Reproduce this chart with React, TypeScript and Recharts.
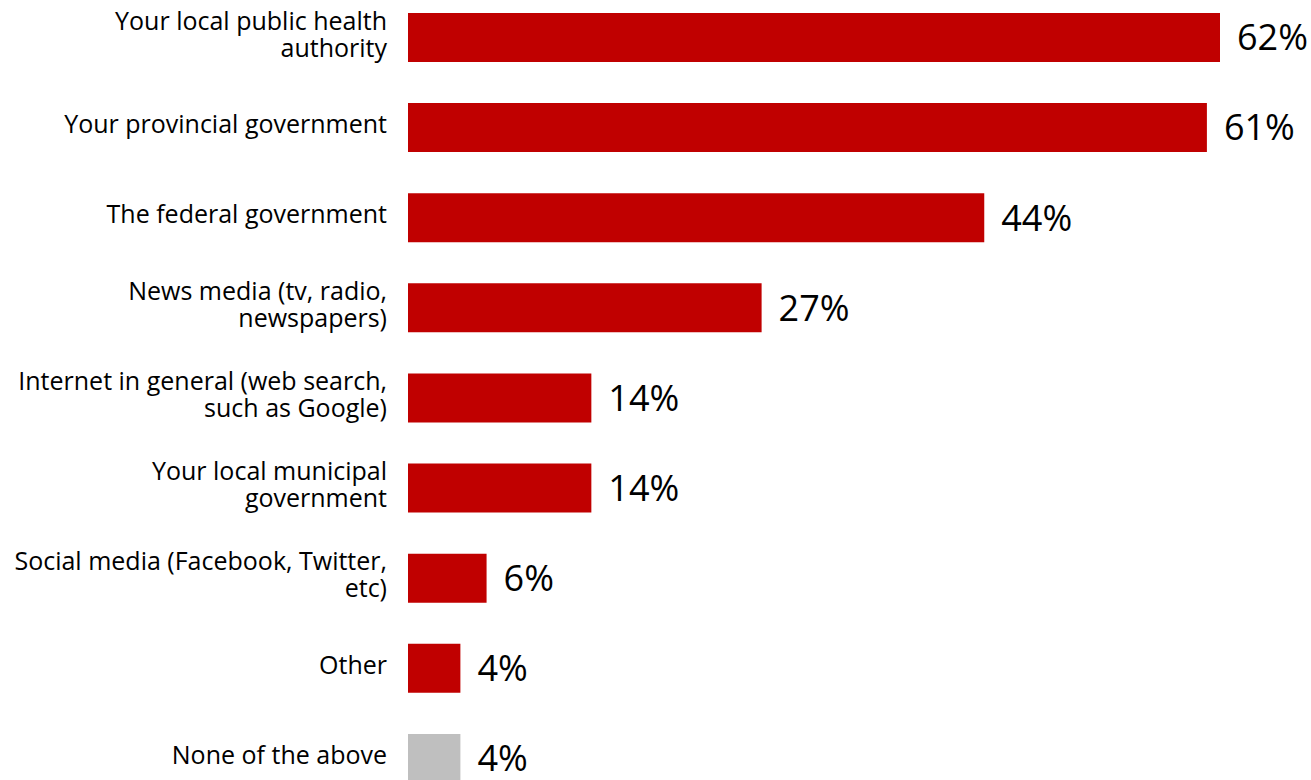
import { BarChart, Bar, XAxis, YAxis, LabelList, Cell } from "recharts";

const categories = [
  "Your local public health\nauthority",
  "Your provincial government",
  "The federal government",
  "News media (tv, radio,\nnewspapers)",
  "Internet in general (web search,\nsuch as Google)",
  "Your local municipal\ngovernment",
  "Social media (Facebook, Twitter,\netc)",
  "Other",
  "None of the above",
];
const values = [62, 61, 44, 27, 14, 14, 6, 4, 4];
const colors = ["#C00000", "#C00000", "#C00000", "#C00000", "#C00000", "#C00000", "#C00000", "#C00000", "#BFBFBF"];

const data = categories.map((name, i) => ({ name, value: values[i] }));

const FONT = "'Segoe UI', 'Open Sans', sans-serif";

function CategoryTick({ x, y, payload }: any) {
  const lines = String(payload.value).split("\n");
  const lineHeight = 27;
  const startDy = -((lines.length - 1) * lineHeight) / 2 - 4;
  return (
    <text x={x - 13} y={y} textAnchor="end" fill="#000" fontSize={25} fontFamily={FONT} dominantBaseline="central">
      {lines.map((line, i) => (
        <tspan key={i} x={x - 13} dy={i === 0 ? startDy : lineHeight}>
          {line}
        </tspan>
      ))}
    </text>
  );
}

export default function App() {
  return (
    <div style={{ position: "absolute", left: 0, top: 0, width: 1311, height: 780, overflow: "hidden", background: "#fff" }}>
      <div style={{ marginTop: -8 }}>
        <BarChart
          width={1311}
          height={811}
          data={data}
          layout="vertical"
          margin={{ top: 0, right: 91, bottom: 0, left: 0 }}
        >
          <XAxis type="number" domain={[0, 62]} hide />
          <YAxis
            type="category"
            dataKey="name"
            width={408}
            axisLine={false}
            tickLine={false}
            interval={0}
            tick={<CategoryTick />}
          />
          <Bar dataKey="value" barSize={49} isAnimationActive={false}>
            {data.map((d, i) => (
              <Cell key={d.name} fill={colors[i]} />
            ))}
            <LabelList
              dataKey="value"
              position="right"
              offset={17}
              formatter={(v: any) => `${v}%`}
              style={{ fontSize: 36, fill: "#000", fontFamily: FONT, fontWeight: 500 }}
            />
          </Bar>
        </BarChart>
      </div>
    </div>
  );
}
